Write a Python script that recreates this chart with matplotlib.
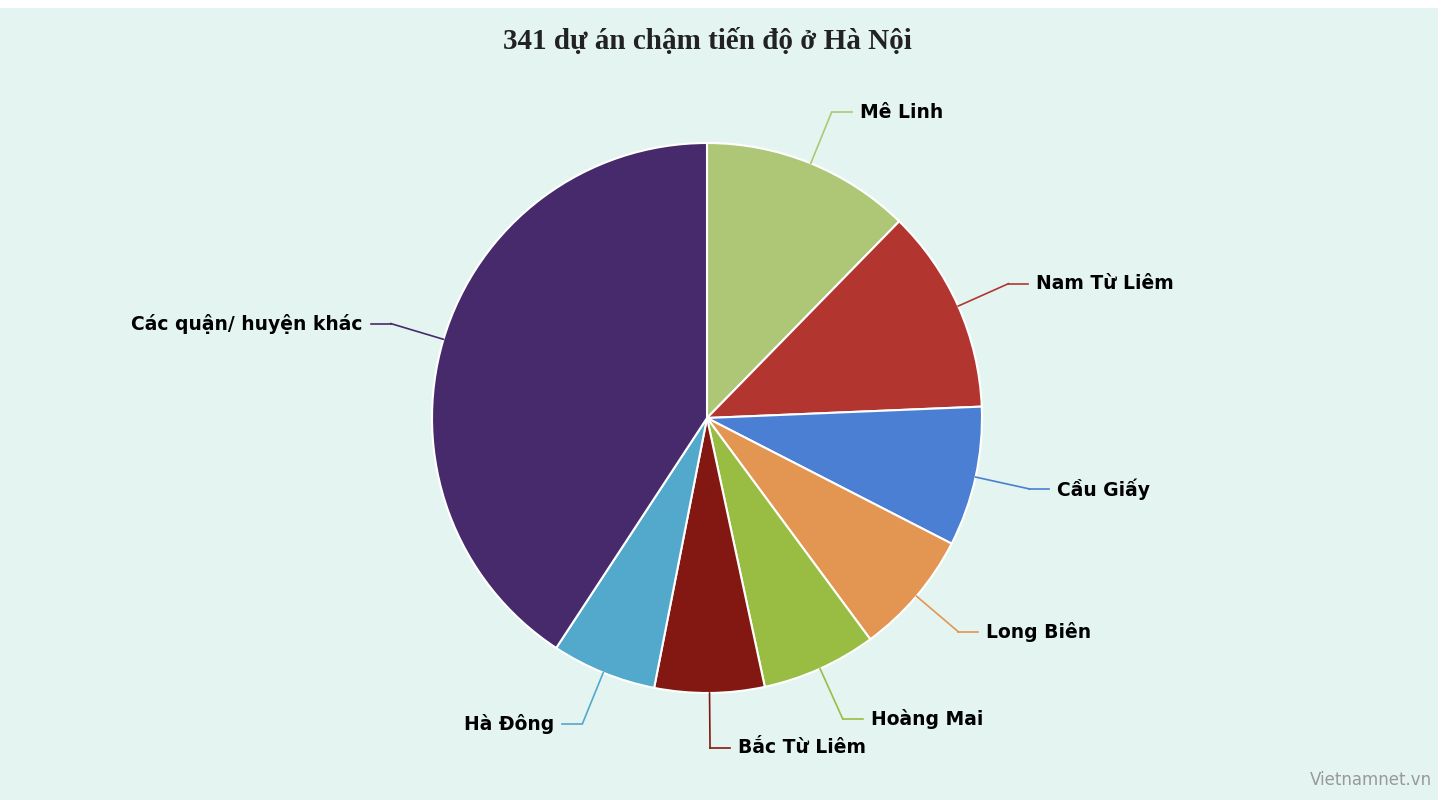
import numpy as np
import matplotlib.pyplot as plt
from matplotlib.patches import Rectangle

labels = ['Mê Linh', 'Nam Từ Liêm', 'Cầu Giấy', 'Long Biên', 'Hoàng Mai',
          'Bắc Từ Liêm', 'Hà Đông', 'Các quận/ huyện khác']
values = [42, 41, 28, 25, 23, 22, 21, 139]
colors = ['#adc776', '#b3352f', '#4a7fd4', '#e39552', '#98bd42',
          '#821811', '#52a9cc', '#472a6b']

fig = plt.figure(figsize=(14.45, 8), dpi=100)
fig.patch.set_facecolor('white')
ax = fig.add_axes([0, 0, 1, 1])
ax.add_patch(Rectangle((0, 0), 1438, 792, facecolor='#e4f5f1', edgecolor='none', zorder=0))

cx, cy, r = 707, 382, 275
wedges, _ = ax.pie(values, colors=colors, startangle=90, counterclock=False,
                   center=(cx, cy), radius=r, frame=True,
                   wedgeprops=dict(edgecolor='white', linewidth=1.5))
ax.set_xlim(0, 1445)
ax.set_ylim(0, 800)
ax.set_aspect('equal')
ax.axis('off')

for w, lab, col in zip(wedges, labels, colors):
    ang = np.deg2rad((w.theta1 + w.theta2) / 2)
    x0, y0 = cx + r * np.cos(ang), cy + r * np.sin(ang)
    x1, y1 = cx + r * 1.2 * np.cos(ang), cy + r * 1.2 * np.sin(ang)
    right = np.cos(ang) >= 0
    tx = x1 + (28 if right else -28)
    ax.plot([x0, x1], [y0, y1], color=col, lw=1.2)
    ax.plot([x1, tx - (8 if right else -8)], [y1, y1], color=col, lw=1.2)
    ax.text(tx, y1, lab, ha='left' if right else 'right', va='center',
            fontsize=13.5, fontweight='bold', color='black')

ax.text(707, 758, '341 dự án chậm tiến độ ở Hà Nội', ha='center', va='center',
        fontsize=21, fontweight='bold', family='Liberation Serif', color='#222222')
ax.text(1432, 20, 'Vietnamnet.vn', ha='right', va='center', fontsize=12, color='#999999')

fig.savefig('out.png', dpi=100)
